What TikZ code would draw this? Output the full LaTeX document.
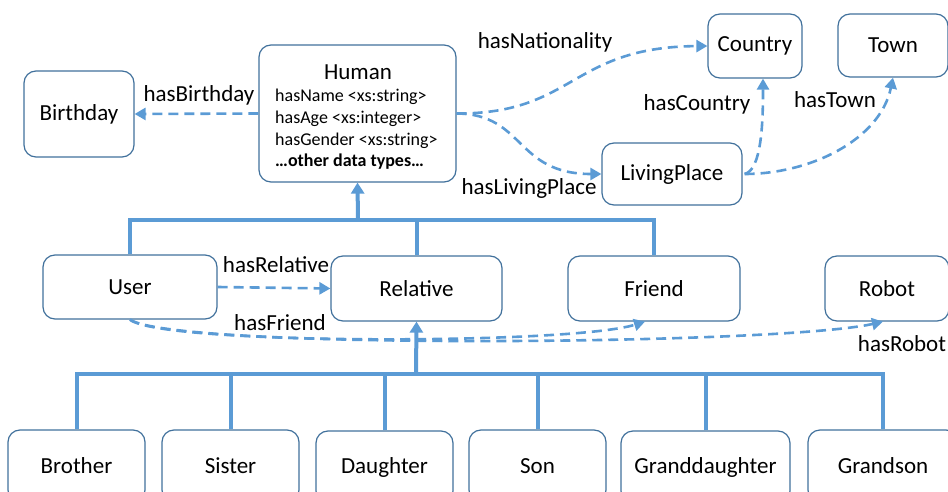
\documentclass[tikz,border=0pt]{standalone}
\usepackage{fontspec}
\setmainfont{Carlito}
\usetikzlibrary{arrows.meta}
\definecolor{lineblue}{HTML}{5B9BD5}
\definecolor{boxblue}{HTML}{41719C}
\tikzset{
  cls/.style={draw=boxblue, line width=1.2pt, rounded corners=12pt, fill=white,
    font=\fontsize{23}{26}\selectfont, inner sep=0pt, anchor=center},
  lbl/.style={font=\fontsize{23}{26}\selectfont, inner sep=0pt},
  tree/.style={draw=lineblue, line width=4pt},
  treearrow/.style={tree, -{Triangle[length=11pt,width=13pt]}},
  rel/.style={draw=lineblue, line width=2.6pt, dash pattern=on 10pt off 6pt,
    -{Triangle[length=11pt,width=12pt]}},
}
\begin{document}
\begin{tikzpicture}[x=1pt,y=-1pt]
\useasboundingbox (0,0) rectangle (948,492);
\clip (0,0) rectangle (948,492);

% classes
\node[cls, minimum width=110, minimum height=86] (birthday) at (79,114) {Birthday};
\node[cls, minimum width=197, minimum height=137] (human) at (357.5,113.5) {};
\node[lbl, font=\fontsize{23}{26}\selectfont] (humantitle) at (358,72) {Human};
\node[lbl, anchor=north west, align=left, font=\fontsize{18}{21.7}\selectfont] (humanattrs) at (275,89)
  {hasName <xs:string>\\ hasAge <xs:integer>\\ hasGender <xs:string>\\ \textbf{…other data types…}};
\node[cls, minimum width=94, minimum height=64] (country) at (755,46) {Country};
\node[cls, minimum width=110, minimum height=63] (town) at (893,45.5) {Town};
\node[cls, minimum width=140, minimum height=62] (living) at (672,174) {LivingPlace};

\node[cls, minimum width=174, minimum height=64] (user) at (130,287) {User};
\node[cls, minimum width=171, minimum height=65] (relative) at (416.5,288.5) {Relative};
\node[cls, minimum width=172, minimum height=65] (friend) at (654,288.5) {Friend};
\node[cls, minimum width=124, minimum height=65] (robot) at (887,288.5) {Robot};

\node[cls, minimum width=137, minimum height=72] (brother) at (76.5,466) {Brother};
\node[cls, minimum width=137, minimum height=72] (sister) at (230.5,466) {Sister};
\node[cls, minimum width=137, minimum height=72] (daughter) at (384.5,467) {Daughter};
\node[cls, minimum width=137, minimum height=72] (son) at (537.5,466) {Son};
\node[cls, minimum width=169, minimum height=72] (granddaughter) at (705.5,467) {Granddaughter};
\node[cls, minimum width=150, minimum height=72] (grandson) at (883,466) {Grandson};

% subclass trees
\coordinate (hubtop) at (358,220);
\draw[tree] (user.north) |- (hubtop) -| (friend.north);
\draw[tree] (relative.north) -- (relative.north |- hubtop);
\draw[treearrow] (hubtop) -- (human.south);

\coordinate (hubbottom) at (416,374);
\draw[tree] (brother.north) |- (hubbottom) -| (grandson.north);
\draw[tree] (sister.north) -- (sister.north |- hubbottom);
\draw[tree] (daughter.north) -- (daughter.north |- hubbottom);
\draw[tree] (son.north) -- (son.north |- hubbottom);
\draw[tree] (granddaughter.north) -- (granddaughter.north |- hubbottom);
\draw[treearrow] (hubbottom) -- (relative.south);

% object properties
\draw[rel] (human.west) -- (birthday.east);
\node[lbl] (lbirthday) at (199,95) {hasBirthday};

\draw[rel] (human.east) .. controls (575,114) and (570,47) .. (country.west);
\node[lbl] (lnationality) at (545,42) {hasNationality};

\draw[rel] (human.east) .. controls (525,114) and (515,174) .. (living.west);
\node[lbl] (lliving) at (529,188) {hasLivingPlace};

\draw[rel] ([xshift=2]living.east) .. controls (762,170) and (763,120) .. ([xshift=8]country.south);
\node[lbl] (lcountry) at (697,104) {hasCountry};

\draw[rel] ([xshift=2]living.east) .. controls (810,174) and (880,140) .. (town.south);
\node[lbl] (ltown) at (835,100) {hasTown};

\draw[rel] (user.east) -- (relative.west);
\node[lbl] (lrelative) at (276,265) {hasRelative};

\draw[rel] (user.south) .. controls (160,345) and (570,345) .. ([xshift=-9]friend.south);
\node[lbl] (lfriend) at (280,323) {hasFriend};

\draw[rel] (user.south) .. controls (175,350) and (780,345) .. ([xshift=-4]robot.south);
\node[lbl] (lrobot) at (902,344) {hasRobot};
\end{tikzpicture}
\end{document}
